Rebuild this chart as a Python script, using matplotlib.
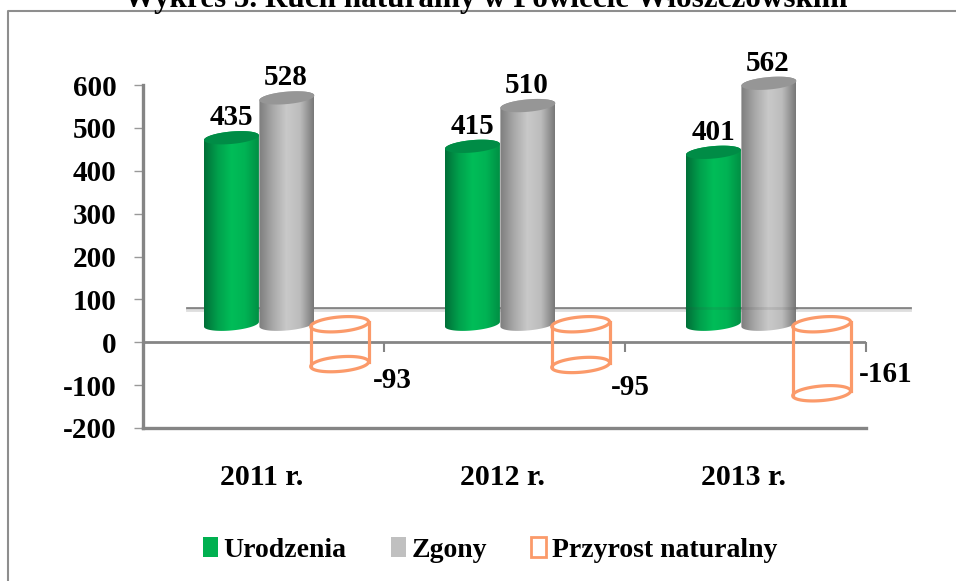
import numpy as np
import matplotlib
matplotlib.use('Agg')
import matplotlib.pyplot as plt
from matplotlib.colors import LinearSegmentedColormap
from matplotlib.lines import Line2D
from matplotlib.patches import Patch, Polygon
from matplotlib.transforms import ScaledTranslation

years = ['2011 r.', '2012 r.', '2013 r.']
urodzenia = [435, 415, 401]
zgony = [528, 510, 562]
przyrost = [-93, -95, -161]
yticks = [-200, -100, 0, 100, 200, 300, 400, 500, 600]

title = 'Wykres 5. Ruch naturalny w Powiecie Włoszczowskim'
font = 'Liberation Serif'

W, H = 956, 581
left, right, top, bottom = 143, 866, 85, 428

# 3d look: bars stand half way into the floor
depth_y = 42
back_y = 80
ell_h = 14.5
ell_tilt = 5.5
bar_w = 0.114

greenMap = LinearSegmentedColormap.from_list('g', ['#006f38', '#00a04c', '#00bd58', '#00b354', '#008f44'])
greyMap = LinearSegmentedColormap.from_list('k', ['#7d7d7d', '#a8a8a8', '#c9c9c9', '#bcbcbc', '#787878'])


def ellipse(xc, y, w, h=ell_h):
    t = np.linspace(0, 2*np.pi, 80)
    return np.c_[xc + w*np.cos(t), y + h*np.sin(t) + ell_tilt*np.cos(t)]


def solid_cylinder(ax, xc, val, cmap, top_color, zo):
    base = depth_y
    tip = depth_y + val
    t = np.linspace(np.pi, 2*np.pi, 40)
    low = np.c_[xc + bar_w*np.cos(t), base + ell_h*np.sin(t) + ell_tilt*np.cos(t)]
    t2 = np.linspace(0, np.pi, 40)
    up = np.c_[xc + bar_w*np.cos(t2), tip + ell_h*np.sin(t2) + ell_tilt*np.cos(t2)]
    body = Polygon(np.r_[low, up], closed=True, fc='none', ec='none', transform=ax.transData)
    ax.add_patch(body)
    grad = np.linspace(0, 1, 128).reshape(1, -1)
    im = ax.imshow(grad, cmap=cmap, aspect='auto', zorder=zo,
                   extent=[xc-bar_w, xc+bar_w, base-ell_h-ell_tilt, tip+ell_h+ell_tilt])
    im.set_clip_path(body)
    im.set_clip_box(fig.bbox)
    ax.add_patch(Polygon(ellipse(xc, tip, bar_w), closed=True, fc=top_color, ec='none',
                         zorder=zo+0.1, clip_on=False))


def hollow_cylinder(ax, xc, val):
    w = 0.12
    h = 17
    base = depth_y
    tip = depth_y + val
    col = '#fb9a6a'
    ax.add_patch(Polygon(ellipse(xc, base, w, h), closed=True, fc='none', ec=col, lw=2.3, zorder=6))
    ax.add_patch(Polygon(ellipse(xc, tip, w, h), closed=True, fc='none', ec=col, lw=2.3, zorder=6))
    ax.plot([xc-w, xc-w], [base-ell_tilt, tip-ell_tilt], color=col, lw=2.3, zorder=6)
    ax.plot([xc+w, xc+w], [base+ell_tilt, tip+ell_tilt], color=col, lw=2.3, zorder=6)


fig = plt.figure(figsize=(W/100, H/100), dpi=100)
ax = fig.add_axes([left/W, 1-bottom/H, (right-left)/W, (bottom-top)/H])
x = np.arange(len(years))

ax.set_xlim(-0.5, 2.5)
ax.set_ylim(-200, 600)

# outer frame, runs off the picture on top and right
fig.add_artist(Line2D([8/W, 8/W, 1], [0, 1-11/H, 1-11/H], color='#8e8e8e', lw=1.5))
fig.text(486/W, 1-7/H, title, ha='center', va='baseline', fontsize=22.4, fontweight='bold', family=font)

# floor line at the back and its shadow
dx = 0.183
ax.plot([-0.5+dx, 2.5+dx], [back_y, back_y], color='#858585', lw=2, clip_on=False, zorder=1)
ax.plot([-0.5+dx, 2.5+dx], [back_y-4, back_y-4], color='#dedede', lw=2, clip_on=False, zorder=1)

ax.axhline(0, color='#858585', lw=2, zorder=2)
ax.vlines(x+0.5, -23, 0, color='#858585', lw=1.5, zorder=2, clip_on=False)

for i in x:
    solid_cylinder(ax, i-0.133, urodzenia[i], greenMap, '#008c46', 3)
    solid_cylinder(ax, i+0.097, zgony[i], greyMap, '#969696', 4)
    hollow_cylinder(ax, i+0.316, przyrost[i])

# the floor line shows faintly through the last pair
ax.plot([2-0.133-bar_w, 2+0.097+bar_w], [back_y, back_y], color='#404040', lw=2, alpha=0.12, zorder=5)

ax.set_xlim(-0.5, 2.5)
ax.set_ylim(-200, 600)

off_up = 20
for i in x:
    ax.annotate(str(urodzenia[i]), (i-0.133, urodzenia[i]+depth_y), xytext=(0, off_up*0.72),
                textcoords='offset points', ha='center', va='center', fontsize=21, fontweight='bold', family=font, zorder=8)
    ax.annotate(str(zgony[i]), (i+0.097, zgony[i]+depth_y), xytext=(-1*0.72, off_up*0.72),
                textcoords='offset points', ha='center', va='center', fontsize=21, fontweight='bold', family=font,
                zorder=8, annotation_clip=False)

neg_off = [(53, -16), (50, -23), (64, 19)]
for i in x:
    ax.annotate(str(przyrost[i]), (i+0.316, przyrost[i]+depth_y),
                xytext=(neg_off[i][0]*0.72, neg_off[i][1]*0.72),
                textcoords='offset points', ha='center', va='center', fontsize=21, fontweight='bold', family=font, zorder=8)

for s in ['top', 'right']:
    ax.spines[s].set_visible(False)
ax.spines['left'].set_color('#858585')
ax.spines['left'].set_linewidth(2.4)
ax.spines['bottom'].set_color('#858585')
ax.spines['bottom'].set_linewidth(2.4)

ax.set_yticks(yticks)
ax.set_yticklabels([str(v) for v in yticks], fontsize=21, fontweight='bold', family=font)
ax.tick_params(axis='y', length=6.5, width=1, color='#999999', pad=12.5)
ax.set_xticks(x)
ax.set_xticklabels(years, fontsize=21.5, fontweight='bold', family=font)
ax.tick_params(axis='x', length=0, pad=26)
shift = ScaledTranslation(-2/100, 0, fig.dpi_scale_trans)
for lab in ax.get_xticklabels():
    lab.set_transform(lab.get_transform() + shift)

handles = [Patch(fc='#00b050', ec='none', label='Urodzenia'),
           Patch(fc='#c0c0c0', ec='none', label='Zgony'),
           Patch(fc='white', ec='#fb9a6a', lw=2, label='Przyrost naturalny')]
fig.legend(handles=handles, loc='center', bbox_to_anchor=(490/W, 1-550/H), ncol=3, frameon=False,
           prop={'family': font, 'weight': 'bold', 'size': 20}, handlelength=0.54, handleheight=0.75,
           handletextpad=0.2, columnspacing=1.6)

fig.savefig('out.png', dpi=100)
